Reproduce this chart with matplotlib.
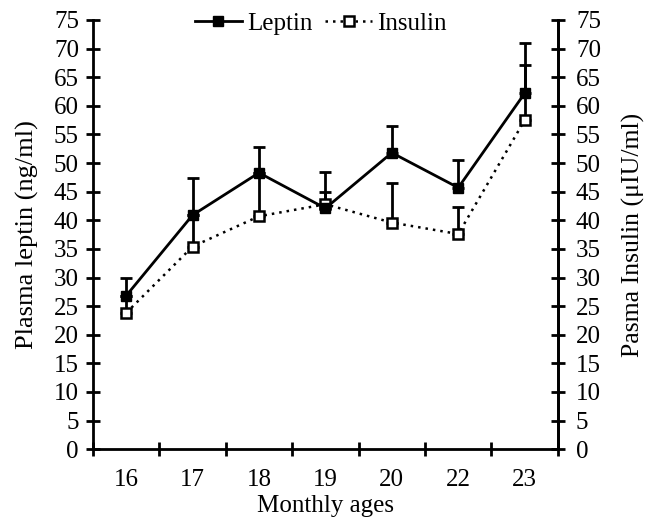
import matplotlib.pyplot as plt
import numpy as np

ages = ['16', '17', '18', '19', '20', '22', '23']
leptin = [26.8, 40.9, 48.3, 42.1, 51.8, 45.7, 62.2]
leptin_err = [3.2, 6.5, 4.5, 6.3, 4.7, 4.8, 8.8]
insulin = [23.8, 35.4, 40.7, 42.8, 39.6, 37.6, 57.5]
insulin_err = [3.0, 5.5, 7.6, 2.1, 7.0, 4.8, 9.6]

plt.rcParams['font.family'] = ['Liberation Serif', 'DejaVu Serif']
fs = 18

fig = plt.figure(figsize=(6.45, 5.26), dpi=100)
ax = fig.add_axes([0.144, 0.146, 0.721, 0.816])
x = np.arange(len(ages))

ax.errorbar(x, insulin, yerr=[np.zeros(len(x)), insulin_err], fmt='none',
            ecolor='black', elinewidth=2, capsize=4, capthick=2, zorder=2)
ax.errorbar(x, leptin, yerr=[np.zeros(len(x)), leptin_err], fmt='none',
            ecolor='black', elinewidth=2, capsize=4, capthick=2, zorder=2)
ax.plot(x, insulin, color='black', linestyle=(0, (1, 2)), linewidth=1.8,
        marker='s', markersize=7, markerfacecolor='white', markeredgewidth=1.8,
        label='Insulin', zorder=3)
ax.plot(x, leptin, color='black', linestyle='-', linewidth=2,
        marker='s', markersize=7.5, markerfacecolor='black',
        label='Leptin', zorder=4)

ax.set_xlim(-0.5, len(ages) - 0.5)
ax.set_ylim(0, 75)
ax.set_yticks(np.arange(0, 76, 5))
ax.set_xticks(np.arange(-0.5, len(ages), 1))
ax.set_xticklabels([])
ax.set_xticks(x, minor=True)
ax.set_xticklabels(ages, minor=True)
ax.tick_params(axis='x', which='minor', length=0, pad=14, labelsize=fs)
ax.tick_params(axis='x', which='major', direction='inout', length=10, width=2)
ax.tick_params(axis='y', direction='inout', length=10, width=2, labelsize=fs, pad=5)

for s in ['left', 'bottom', 'right']:
    ax.spines[s].set_linewidth(2)
ax.spines['top'].set_visible(False)

ax2 = ax.twinx()
ax2.set_ylim(0, 75)
ax2.set_yticks(np.arange(0, 76, 5))
ax2.tick_params(axis='y', direction='inout', length=10, width=2, labelsize=fs, pad=8)
ax2.spines['top'].set_visible(False)
ax2.spines['right'].set_linewidth(2)
ax2.spines['left'].set_visible(False)

ax.set_xlabel('Monthly ages', fontsize=18, labelpad=3)
ax.set_ylabel('Plasma leptin (ng/ml)', fontsize=19, labelpad=11)
ax2.set_ylabel('Pasma Insulin (\u03bcIU/ml)', fontsize=18.5, labelpad=15)

h, l = ax.get_legend_handles_labels()
ax.legend(h[::-1], l[::-1], loc='upper center', bbox_to_anchor=(0.49, 1.07),
          ncol=2, frameon=False, fontsize=fs, handlelength=1.9,
          handletextpad=0.2, columnspacing=0.5)

fig.savefig('out.png', dpi=100)
